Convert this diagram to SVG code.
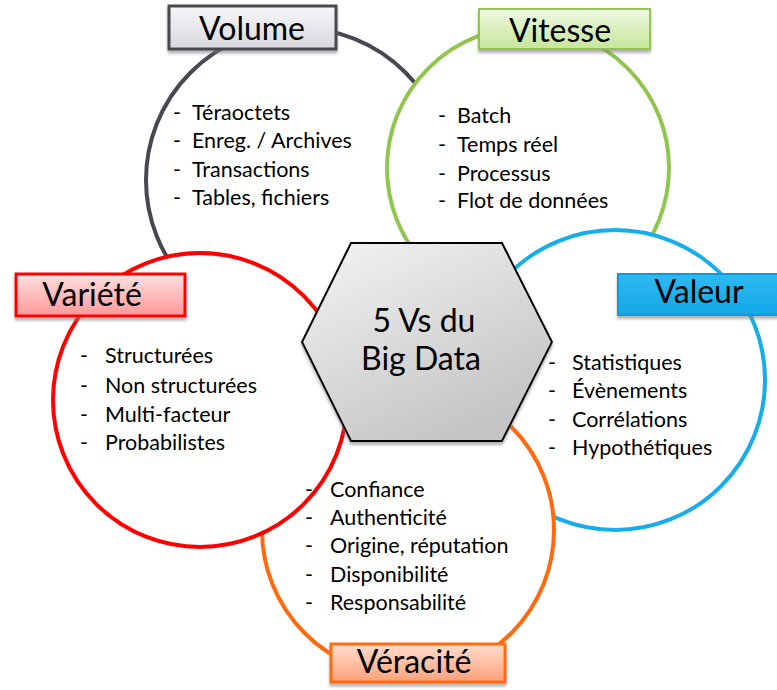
<svg xmlns="http://www.w3.org/2000/svg" width="777" height="690" viewBox="0 0 777 690">
<defs>
  <linearGradient id="gGray" x1="0" y1="0" x2="0" y2="1"><stop offset="0" stop-color="#f7f6f9"/><stop offset="1" stop-color="#d8d7dc"/></linearGradient>
  <linearGradient id="gGreen" x1="0" y1="0" x2="0" y2="1"><stop offset="0" stop-color="#eef8e0"/><stop offset="1" stop-color="#c6e69c"/></linearGradient>
  <linearGradient id="gBlue" x1="0" y1="0" x2="0" y2="1"><stop offset="0" stop-color="#2dbaf3"/><stop offset="1" stop-color="#12a6e6"/></linearGradient>
  <linearGradient id="gRed" x1="0" y1="0" x2="0" y2="1"><stop offset="0" stop-color="#ffe0e0"/><stop offset="1" stop-color="#ff9898"/></linearGradient>
  <linearGradient id="gOrange" x1="0" y1="0" x2="0" y2="1"><stop offset="0" stop-color="#ffddcc"/><stop offset="1" stop-color="#ffa07a"/></linearGradient>
  <linearGradient id="gHex" x1="0" y1="0" x2="0.6" y2="1"><stop offset="0" stop-color="#f4f4f4"/><stop offset="1" stop-color="#c4c4c4"/></linearGradient>
  <filter id="sh" x="-10%" y="-10%" width="120%" height="140%"><feDropShadow dx="0" dy="3" stdDeviation="1.5" flood-color="#808080" flood-opacity="0.6"/></filter>
</defs>
<style>
  .ring{fill:#fff;stroke-width:4}
  .lbl{font-family:Lato,"Open Sans",sans-serif;font-size:32px;fill:#000;text-anchor:middle}
  .li{font-family:Lato,"Open Sans",sans-serif;font-size:21.5px;fill:#000}
  .hex{font-family:Lato,"Open Sans",sans-serif;font-size:32px;fill:#000;text-anchor:middle}
</style>
<rect width="777" height="690" fill="#fff"/>
<g id="rings">
  <circle id="ring-volume" class="ring" cx="298" cy="180" r="152" stroke="#4b4650"/>
  <circle id="ring-vitesse" class="ring" cx="528" cy="168" r="141" stroke="#92c54e"/>
  <circle id="ring-valeur" class="ring" cx="615" cy="380" r="150" stroke="#16aeea"/>
  <circle id="ring-veracite" class="ring" cx="408" cy="530" r="146" stroke="#ff6a10"/>
  <circle id="ring-variete" class="ring" cx="200" cy="400" r="147" stroke="#ff0000"/>
</g>
<g id="center">
  <polygon points="351,243 502,243 552,342 502,441 351,441 302,342" fill="url(#gHex)" stroke="#000" stroke-width="2" filter="url(#sh)"/>
  <text class="hex" x="424" y="332">5 Vs du</text>
  <text class="hex" x="421" y="370">Big Data</text>
</g>
<g id="volume">
  <rect x="169" y="6" width="167" height="43" fill="url(#gGray)" stroke="#4b4650" stroke-width="3" filter="url(#sh)"/>
  <text class="lbl" x="252" y="40">Volume</text>
  <text class="li" x="173" y="120">-</text><text class="li" x="192" y="120">Téraoctets</text>
  <text class="li" x="173" y="148">-</text><text class="li" x="192" y="148">Enreg. / Archives</text>
  <text class="li" x="173" y="177">-</text><text class="li" x="192" y="177">Transactions</text>
  <text class="li" x="173" y="205">-</text><text class="li" x="192" y="205">Tables, fichiers</text>
</g>
<g id="vitesse">
  <rect x="479" y="9" width="171" height="40" fill="url(#gGreen)" stroke="#92c54e" stroke-width="2" filter="url(#sh)"/>
  <text class="lbl" x="560" y="42">Vitesse</text>
  <text class="li" x="438" y="123">-</text><text class="li" x="457" y="123">Batch</text>
  <text class="li" x="438" y="152">-</text><text class="li" x="457" y="152">Temps réel</text>
  <text class="li" x="438" y="181">-</text><text class="li" x="457" y="181">Processus</text>
  <text class="li" x="438" y="208">-</text><text class="li" x="457" y="208">Flot de données</text>
</g>
<g id="valeur">
  <rect x="618" y="274" width="165" height="41" fill="url(#gBlue)" stroke="#0a9ad8" stroke-width="2" filter="url(#sh)"/>
  <text class="lbl" x="699" y="303">Valeur</text>
  <text class="li" x="548" y="370">-</text><text class="li" x="572" y="370">Statistiques</text>
  <text class="li" x="548" y="398">-</text><text class="li" x="572" y="398">Évènements</text>
  <text class="li" x="548" y="427">-</text><text class="li" x="572" y="427">Corrélations</text>
  <text class="li" x="548" y="455">-</text><text class="li" x="572" y="455">Hypothétiques</text>
</g>
<g id="variete">
  <rect x="16" y="274" width="169" height="42" fill="url(#gRed)" stroke="#ff0000" stroke-width="3" filter="url(#sh)"/>
  <text class="lbl" x="92" y="306">Variété</text>
  <text class="li" x="80" y="363">-</text><text class="li" x="105" y="363">Structurées</text>
  <text class="li" x="80" y="393">-</text><text class="li" x="105" y="393">Non structurées</text>
  <text class="li" x="80" y="422">-</text><text class="li" x="105" y="422">Multi-facteur</text>
  <text class="li" x="80" y="450">-</text><text class="li" x="105" y="450">Probabilistes</text>
</g>
<g id="veracite">
  <rect x="331" y="644" width="174" height="38" fill="url(#gOrange)" stroke="#ff6a10" stroke-width="3" filter="url(#sh)"/>
  <text class="lbl" x="414" y="673">Véracité</text>
  <text class="li" x="305" y="497">-</text><text class="li" x="330" y="497">Confiance</text>
  <text class="li" x="305" y="525">-</text><text class="li" x="330" y="525">Authenticité</text>
  <text class="li" x="305" y="553">-</text><text class="li" x="330" y="553">Origine, réputation</text>
  <text class="li" x="305" y="582">-</text><text class="li" x="330" y="582">Disponibilité</text>
  <text class="li" x="305" y="610">-</text><text class="li" x="330" y="610">Responsabilité</text>
</g>
</svg>
